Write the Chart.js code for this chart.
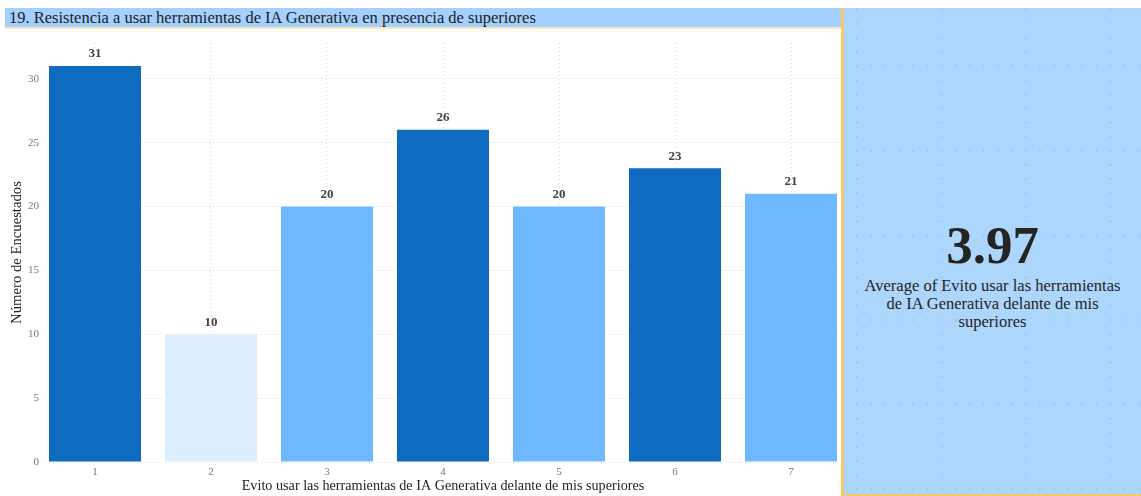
<!DOCTYPE html>
<html lang="es">
<head>
<meta charset="utf-8">
<title>Resistencia a usar herramientas de IA Generativa</title>
<script src="https://cdn.jsdelivr.net/npm/chart.js@4.4.1/dist/chart.umd.min.js"></script>
<style>
  html, body { margin: 0; padding: 0; background: #ffffff; }
  body { width: 1141px; height: 496px; position: relative; overflow: hidden; font-family: "Liberation Serif", "DejaVu Serif", serif; }
  #chart { position: absolute; left: 0; top: 0; }
  #titleBar {
    position: absolute; left: 5px; top: 8px; width: 836px; height: 21px;
    background: #a3d0fe; border-bottom: 2px solid #fbe6b4;
    color: #222; font-size: 16.5px; line-height: 19px; padding-left: 4px; box-sizing: border-box; white-space: nowrap;
  }
  #kpi {
    position: absolute; left: 841px; top: 8px; width: 300px; height: 488px;
    background: #add6fd; border-left: 3px solid #f7c86a; border-bottom: 2px solid #f7c86a;
    box-sizing: border-box;
  }
  #kpi svg { position: absolute; left: 0; top: 0; }
  #kpiValue {
    position: absolute; left: 0; right: 0; top: 207px; text-align: center;
    font-size: 53px; font-weight: bold; color: #252423; line-height: 60px;
  }
  #kpiLabel {
    position: absolute; left: 14px; right: 14px; top: 269px; text-align: center;
    font-size: 16.5px; color: #252423; line-height: 18px;
  }
</style>
</head>
<body>
<canvas id="chart" width="1141" height="496"></canvas>
<div id="titleBar">19. Resistencia a usar herramientas de IA Generativa en presencia de superiores</div>
<div id="kpi">
  <svg width="297" height="486">
    <defs>
      <pattern id="dots" patternUnits="userSpaceOnUse" width="84.6" height="84.6" x="12" y="57.5">
        <g fill="#8fb5dc">
          <rect x="0" y="0" width="1.4" height="1.4"/>
          <rect x="0" y="14.1" width="1.4" height="1.4"/>
          <rect x="0" y="28.2" width="1.4" height="1.4"/>
          <rect x="0" y="42.3" width="1.4" height="1.4"/>
          <rect x="0" y="56.4" width="1.4" height="1.4"/>
          <rect x="0" y="70.5" width="1.4" height="1.4"/>
          <rect x="14.1" y="0" width="1.4" height="1.4"/>
          <rect x="28.2" y="0" width="1.4" height="1.4"/>
          <rect x="42.3" y="0" width="1.4" height="1.4"/>
          <rect x="56.4" y="0" width="1.4" height="1.4"/>
          <rect x="70.5" y="0" width="1.4" height="1.4"/>
        </g>
      </pattern>
    </defs>
    <rect x="0" y="0" width="297" height="486" fill="url(#dots)"/>
  </svg>
  <div id="kpiValue"></div>
  <div id="kpiLabel">Average of Evito usar las herramientas de IA Generativa delante de mis superiores</div>
</div>
<script>
// Respuestas en escala 1–7 y número de encuestados por respuesta
const categories = [1, 2, 3, 4, 5, 6, 7];
const respondents = [31, 10, 20, 26, 20, 23, 21];
const yTicks = [0, 5, 10, 15, 20, 25, 30];

const xTitle = 'Evito usar las herramientas de IA Generativa delante de mis superiores';
const yTitle = 'Número de Encuestados';

const dark = '#0f6bc0', mid = '#70b9ff', pale = '#ddeefe';
const barColors = [dark, pale, mid, dark, mid, dark, mid];

// Promedio ponderado mostrado en la tarjeta
const total = respondents.reduce((a, b) => a + b, 0);
const weighted = categories.reduce((s, c, i) => s + c * respondents[i], 0);
document.getElementById('kpiValue').textContent = (weighted / total).toFixed(2);

const tickFont = { family: '"Liberation Serif", serif', size: 11 };
const titleFont = { family: '"Liberation Serif", serif', size: 14.2 };

const valueLabels = {
  id: 'valueLabels',
  afterDatasetsDraw(chart) {
    const { ctx } = chart;
    const meta = chart.getDatasetMeta(0);
    ctx.save();
    ctx.font = 'bold 13px "Liberation Serif", serif';
    ctx.fillStyle = '#444444';
    ctx.textAlign = 'center';
    ctx.textBaseline = 'middle';
    meta.data.forEach((bar, i) => {
      ctx.fillText(String(respondents[i]), bar.x, bar.y - 12);
    });
    ctx.restore();
  }
};

new Chart(document.getElementById('chart'), {
  type: 'bar',
  data: {
    datasets: [{
      data: categories.map((c, i) => ({ x: c, y: respondents[i] })),
      backgroundColor: barColors,
      borderWidth: 0,
      barPercentage: 0.793,
      categoryPercentage: 1
    }]
  },
  options: {
    responsive: false,
    animation: false,
    layout: { padding: { left: 0, top: 43, right: 300, bottom: 0 } },
    plugins: { legend: { display: false }, tooltip: { enabled: false } },
    scales: {
      x: {
        type: 'linear',
        offset: false,
        min: 0.569,
        max: 7.431,
        afterBuildTicks: (s) => { s.ticks = categories.map(v => ({ value: v })); },
        afterFit: (s) => { s.height = 34; },
        ticks: { font: tickFont, color: '#777777', padding: 4, maxRotation: 0, autoSkip: false,
                 callback: (v) => String(v) },
        grid: { display: true, drawTicks: false, color: '#d9d9d9', lineWidth: 1, offset: false },
        border: { display: false, dash: [1, 3] },
        title: { display: true, text: xTitle, font: titleFont, color: '#252423', padding: { top: 0, bottom: 1 } }
      },
      y: {
        min: 0,
        max: 32.8,
        afterBuildTicks: (s) => { s.ticks = yTicks.map(v => ({ value: v })); },
        afterFit: (s) => { s.width = 45; },
        ticks: { font: tickFont, color: '#777777', padding: 6 },
        grid: { drawTicks: false, color: '#d9d9d9', lineWidth: 1 },
        border: { display: false, dash: [1, 3] },
        title: { display: true, text: yTitle, font: { family: '"Liberation Serif", serif', size: 14.7 }, color: '#252423', padding: { top: 8, bottom: 0 } }
      }
    }
  },
  plugins: [valueLabels]
});
</script>
</body>
</html>
